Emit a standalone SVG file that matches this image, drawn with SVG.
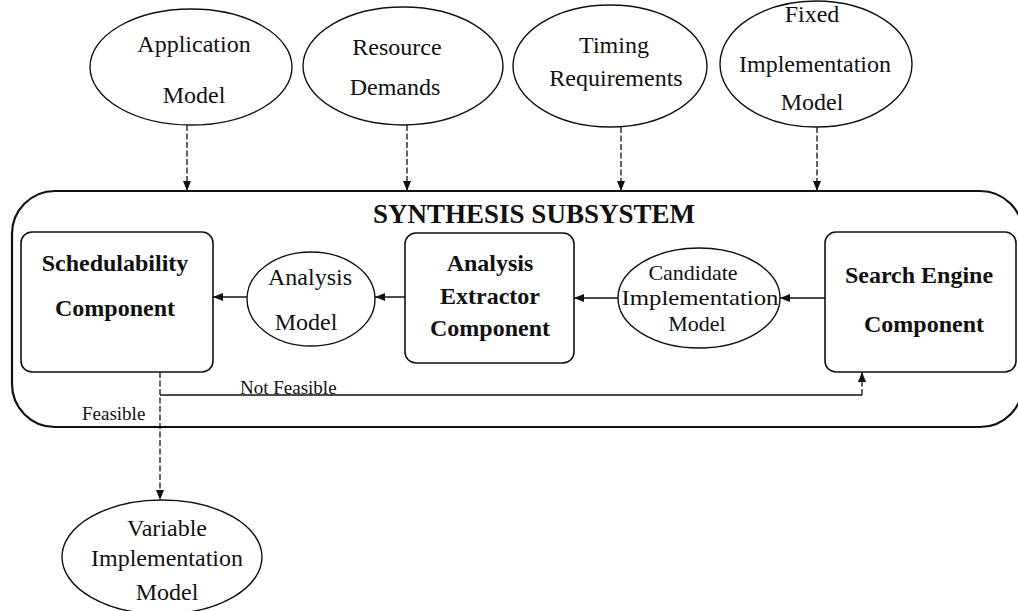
<svg xmlns="http://www.w3.org/2000/svg" width="1018" height="611" viewBox="0 0 1018 611">
  <style>
    .ell { fill: #fff; stroke: #111; stroke-width: 1.4; }
    .box { fill: #fff; stroke: #111; stroke-width: 1.6; }
    .frame { fill: #fff; stroke: #111; stroke-width: 2.2; }
    .t { font-family: "Liberation Serif", "Times New Roman", serif; font-size: 24px; fill: #111; text-anchor: middle; }
    .s { font-size: 22px; }
    .b { font-weight: bold; }
    .title { font-family: "Liberation Serif", "Times New Roman", serif; font-size: 27px; font-weight: bold; fill: #111; text-anchor: middle; }
    .lbl { font-family: "Liberation Serif", "Times New Roman", serif; font-size: 19px; fill: #111; }
    .solid { fill: none; stroke: #111; stroke-width: 1.5; }
    .dash { fill: none; stroke: #111; stroke-width: 1.3; stroke-dasharray: 6 2.5; }
  </style>
  <defs>
    <marker id="arrow" viewBox="0 0 10 10" refX="10" refY="5" markerWidth="10" markerHeight="10" markerUnits="userSpaceOnUse" orient="auto">
      <path d="M0,1 L10,5 L0,9 Z" fill="#111"/>
    </marker>
  </defs>
  <rect width="1018" height="611" fill="#fff"/>

  <!-- subsystem frame -->
  <g id="synthesis-subsystem">
    <rect class="frame" x="12" y="191" width="1011" height="236" rx="43" ry="43"/>
    <text class="title" x="534" y="223">SYNTHESIS SUBSYSTEM</text>
  </g>

  <!-- input models -->
  <g id="application-model">
    <ellipse class="ell" cx="191" cy="67" rx="101" ry="58"/>
    <text class="t" x="194" y="52">Application</text>
    <text class="t" x="194" y="103">Model</text>
  </g>
  <g id="resource-demands">
    <ellipse class="ell" cx="403" cy="66" rx="100" ry="59"/>
    <text class="t" x="397" y="55">Resource</text>
    <text class="t" x="395" y="95">Demands</text>
  </g>
  <g id="timing-requirements">
    <ellipse class="ell" cx="610" cy="66" rx="97" ry="61"/>
    <text class="t" x="614" y="53">Timing</text>
    <text class="t" x="616" y="86">Requirements</text>
  </g>
  <g id="fixed-implementation-model">
    <ellipse class="ell" cx="816" cy="64" rx="96" ry="63"/>
    <text class="t" x="812" y="22">Fixed</text>
    <text class="t" x="815" y="72">Implementation</text>
    <text class="t" x="812" y="110">Model</text>
  </g>

  <!-- components and intermediate models -->
  <g id="schedulability-component">
    <rect class="box" x="21" y="232" width="192" height="140" rx="11" ry="11"/>
    <text class="t b" x="115" y="271">Schedulability</text>
    <text class="t b" x="115" y="316">Component</text>
  </g>
  <g id="analysis-model">
    <ellipse class="ell" cx="311" cy="299" rx="64" ry="47"/>
    <text class="t" x="310" y="285">Analysis</text>
    <text class="t" x="306" y="330">Model</text>
  </g>
  <g id="analysis-extractor-component">
    <rect class="box" x="405" y="233" width="169" height="130" rx="11" ry="11"/>
    <text class="t b" x="490" y="271">Analysis</text>
    <text class="t b" x="490" y="304">Extractor</text>
    <text class="t b" x="490" y="336">Component</text>
  </g>
  <g id="candidate-implementation-model">
    <ellipse class="ell" cx="699" cy="298" rx="81" ry="50"/>
    <text class="t s" x="693" y="280">Candidate</text>
    <text class="t s" x="700" y="305" textLength="157" lengthAdjust="spacingAndGlyphs">Implementation</text>
    <text class="t s" x="697" y="331">Model</text>
  </g>
  <g id="search-engine-component">
    <rect class="box" x="825" y="232" width="191" height="140" rx="11" ry="11"/>
    <text class="t b" x="919" y="283">Search Engine</text>
    <text class="t b" x="924" y="332">Component</text>
  </g>

  <!-- output model -->
  <g id="variable-implementation-model">
    <ellipse class="ell" cx="162" cy="557" rx="100" ry="57"/>
    <text class="t" x="167" y="536">Variable</text>
    <text class="t" x="167" y="566">Implementation</text>
    <text class="t" x="167" y="600">Model</text>
  </g>

  <!-- connectors -->
  <g id="connectors">
    <line class="dash" x1="187" y1="125" x2="187" y2="191" marker-end="url(#arrow)"/>
    <line class="dash" x1="407" y1="125" x2="407" y2="191" marker-end="url(#arrow)"/>
    <line class="dash" x1="621" y1="127" x2="621" y2="191" marker-end="url(#arrow)"/>
    <line class="dash" x1="817" y1="127" x2="817" y2="191" marker-end="url(#arrow)"/>

    <line class="solid" x1="825" y1="298" x2="780" y2="298" marker-end="url(#arrow)"/>
    <line class="solid" x1="618" y1="298" x2="574" y2="298" marker-end="url(#arrow)"/>
    <line class="solid" x1="405" y1="297" x2="375" y2="297" marker-end="url(#arrow)"/>
    <line class="solid" x1="247" y1="297" x2="213" y2="297" marker-end="url(#arrow)"/>

    <line class="dash" x1="160" y1="372" x2="160" y2="500" marker-end="url(#arrow)"/>
    <line class="solid" x1="160" y1="395" x2="862" y2="395"/>
    <line class="dash" x1="862" y1="395" x2="862" y2="372" marker-end="url(#arrow)"/>
    <text class="lbl" x="240" y="394">Not Feasible</text>
    <text class="lbl" x="82" y="420">Feasible</text>
  </g>
</svg>
